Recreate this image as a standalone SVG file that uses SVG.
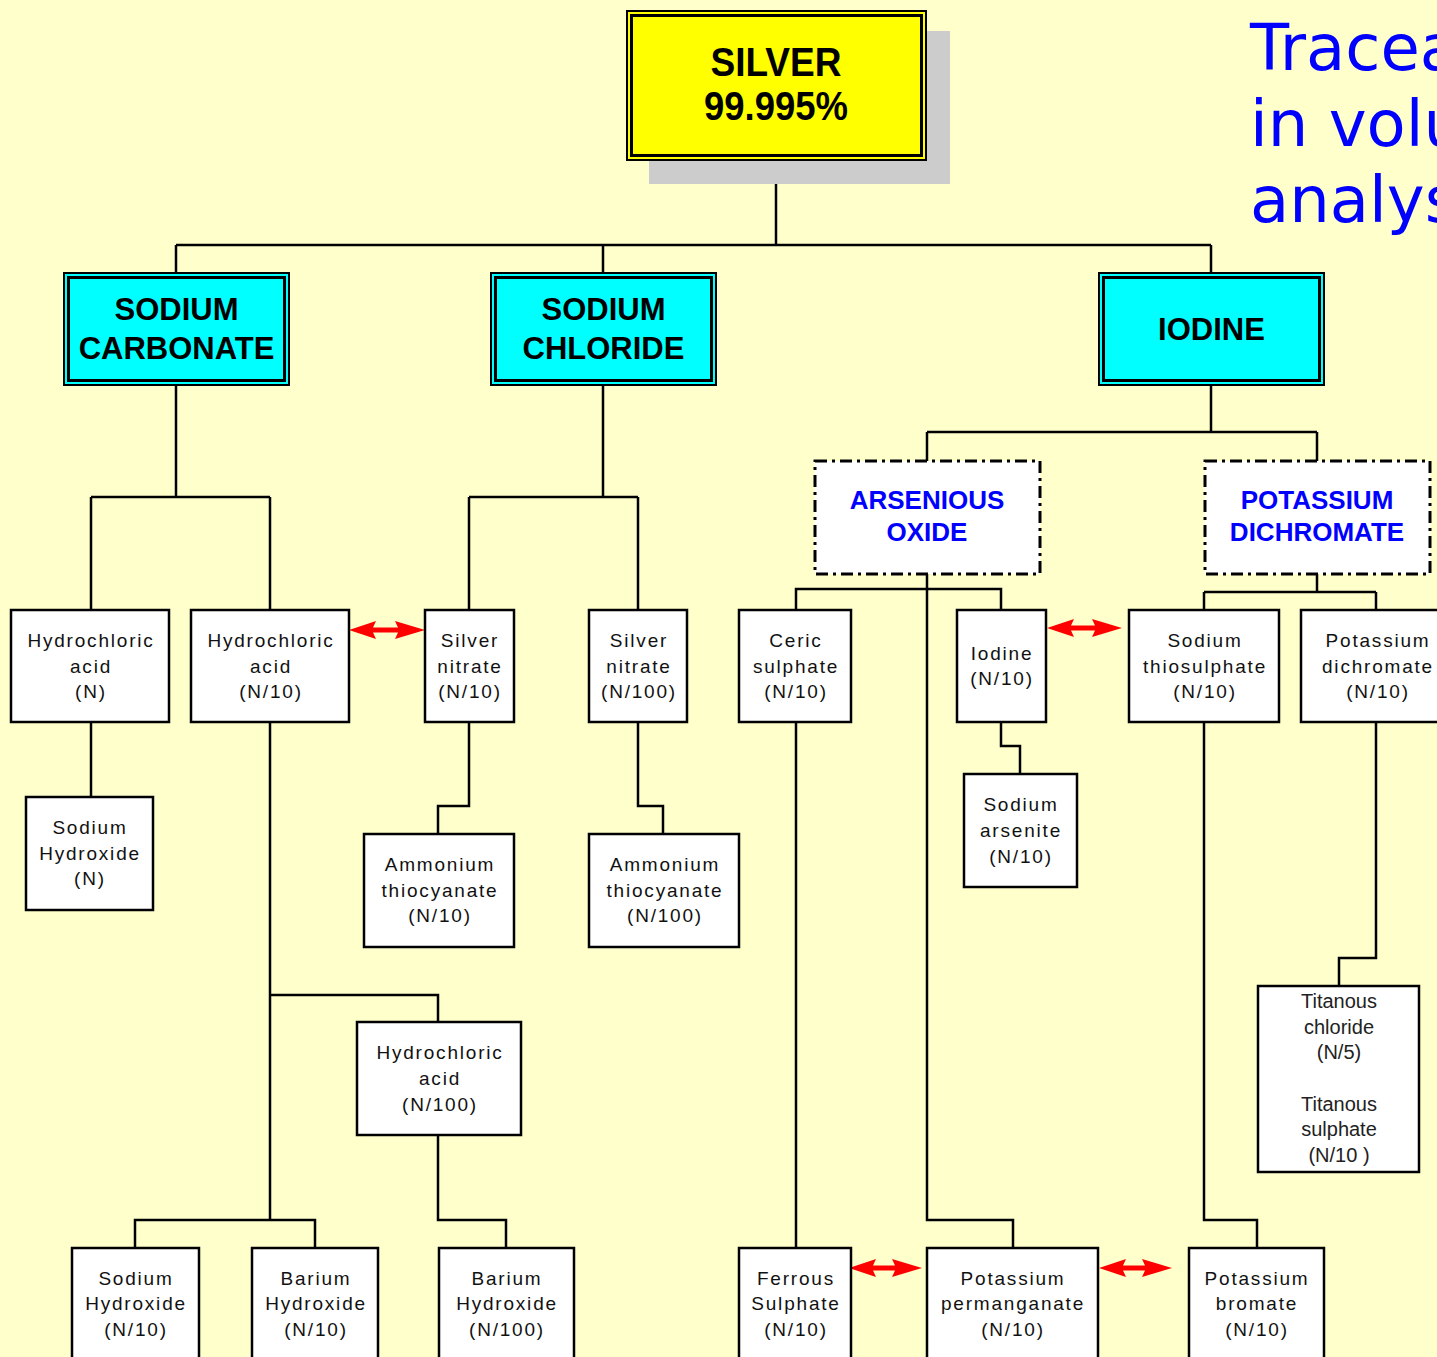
<svg xmlns="http://www.w3.org/2000/svg" width="1437" height="1357" viewBox="0 0 1437 1357">
<style>
.bg{fill:#FFFFCC}
.conn path{fill:none;stroke:#000;stroke-width:2.5}
.box{fill:#fff;stroke:#000;stroke-width:2.5}
.dash{fill:#fff;stroke:#000;stroke-width:3;stroke-dasharray:12 5 3 5}
.cyo{fill:#00FFFF;stroke:#000;stroke-width:2}
.cyi{fill:none;stroke:#000;stroke-width:3}
.lbl{font-family:"Liberation Sans",Arial,sans-serif;font-size:19px;letter-spacing:1.8px;text-anchor:middle;fill:#111}
.thin{font-family:"Liberation Sans",Arial,sans-serif;font-size:20px;text-anchor:middle;fill:#222}
.head{font-family:"Liberation Sans",Arial,sans-serif;font-size:31px;font-weight:bold;text-anchor:middle;fill:#000}
.blue{font-family:"Liberation Sans",Arial,sans-serif;font-size:26px;font-weight:bold;text-anchor:middle;fill:#0000FF}
.silver{font-family:"Liberation Sans",Arial,sans-serif;font-size:40px;font-weight:bold;text-anchor:middle;fill:#000}
.title{font-family:"DejaVu Sans",Verdana,sans-serif;font-size:64px;fill:#0000FF}
.arr{fill:#FF0000}
</style>
<rect class="bg" x="0" y="0" width="1437" height="1357"/>

<g id="title">
<text class="title" x="1250" y="70">Tracea</text>
<text class="title" x="1250" y="146">in volu</text>
<text class="title" x="1250" y="222">analys</text>
</g>

<g id="connectors" class="conn">
<path d="M776,160 V245"/>
<path d="M176,245 H1211"/>
<path d="M176,245 V273 M603,245 V273 M1211,245 V273"/>
<path d="M176,385 V497 M91,497 H270 M91,497 V610 M270,497 V610"/>
<path d="M603,385 V497 M469,497 H638 M469,497 V610 M638,497 V610"/>
<path d="M1211,385 V432 M927,432 H1317 M927,432 V461 M1317,432 V461"/>
<path d="M927,574 V1220 H1013 V1248"/>
<path d="M796,610 V589 H1001 V610"/>
<path d="M1317,574 V592 M1204,592 H1376 M1204,592 V610 M1376,592 V610"/>
<path d="M91,722 V797"/>
<path d="M469,722 V806 H438 V834"/>
<path d="M638,722 V806 H663 V834"/>
<path d="M1001,722 V746 H1020 V774"/>
<path d="M270,722 V1220 M270,995 H438 V1022 M135,1248 V1220 H315 V1248"/>
<path d="M438,1135 V1220 H506 V1248"/>
<path d="M796,722 V1248"/>
<path d="M1204,722 V1220 H1257 V1248"/>
<path d="M1376,722 V958 H1339 V986"/>
</g>

<g id="arrows">
<path class="arr" d="M349,630 L376,621 L373,627.5 L398,627.5 L395,621 L425,630 L395,639 L398,632.5 L373,632.5 L376,639 Z"/>
<path class="arr" d="M1047,628 L1074,619 L1071,625.5 L1095,625.5 L1092,619 L1122,628 L1092,637 L1095,630.5 L1071,630.5 L1074,637 Z"/>
<path class="arr" d="M849,1268 L876,1259 L873,1265.5 L895,1265.5 L892,1259 L922,1268 L892,1277 L895,1270.5 L873,1270.5 L876,1277 Z"/>
<path class="arr" d="M1099,1268 L1126,1259 L1123,1265.5 L1145,1265.5 L1142,1259 L1172,1268 L1142,1277 L1145,1270.5 L1123,1270.5 L1126,1277 Z"/>
</g>

<g id="silver">
<rect x="649" y="31" width="301" height="153" fill="#CCCCCC"/>
<rect x="627" y="11" width="299" height="149" fill="#FFFF00" stroke="#000" stroke-width="2"/>
<rect x="631.5" y="15.5" width="290" height="140" class="cyi"/>
<text class="silver" x="776" y="76" textLength="131" lengthAdjust="spacingAndGlyphs">SILVER</text>
<text class="silver" x="776" y="120" textLength="144" lengthAdjust="spacingAndGlyphs">99.995%</text>
</g>

<g id="sodium-carbonate">
<rect class="cyo" x="64" y="273" width="225" height="112"/>
<rect class="cyi" x="68.5" y="277.5" width="216" height="103"/>
<text class="head" x="176.5" y="320">SODIUM</text>
<text class="head" x="176.5" y="359">CARBONATE</text>
</g>
<g id="sodium-chloride">
<rect class="cyo" x="491" y="273" width="225" height="112"/>
<rect class="cyi" x="495.5" y="277.5" width="216" height="103"/>
<text class="head" x="603.5" y="320">SODIUM</text>
<text class="head" x="603.5" y="359">CHLORIDE</text>
</g>
<g id="iodine">
<rect class="cyo" x="1099" y="273" width="225" height="112"/>
<rect class="cyi" x="1103.5" y="277.5" width="216" height="103"/>
<text class="head" x="1211.5" y="340">IODINE</text>
</g>

<g id="arsenious-oxide">
<rect class="dash" x="815" y="461" width="225" height="113"/>
<text class="blue" x="927" y="509">ARSENIOUS</text>
<text class="blue" x="927" y="541">OXIDE</text>
</g>
<g id="potassium-dichromate-std">
<rect class="dash" x="1205" y="461" width="225" height="113"/>
<text class="blue" x="1317" y="509">POTASSIUM</text>
<text class="blue" x="1317" y="541">DICHROMATE</text>
</g>

<g id="hcl-n">
<rect class="box" x="11" y="610" width="158" height="112"/>
<text class="lbl" x="91" y="647">Hydrochloric</text>
<text class="lbl" x="91" y="673">acid</text>
<text class="lbl" x="91" y="698">(N)</text>
</g>
<g id="hcl-n10">
<rect class="box" x="191" y="610" width="158" height="112"/>
<text class="lbl" x="271" y="647">Hydrochloric</text>
<text class="lbl" x="271" y="673">acid</text>
<text class="lbl" x="271" y="698">(N/10)</text>
</g>
<g id="silver-nitrate-n10">
<rect class="box" x="425" y="610" width="89" height="112"/>
<text class="lbl" x="470" y="647">Silver</text>
<text class="lbl" x="470" y="673">nitrate</text>
<text class="lbl" x="470" y="698">(N/10)</text>
</g>
<g id="silver-nitrate-n100">
<rect class="box" x="589" y="610" width="98" height="112"/>
<text class="lbl" x="639" y="647">Silver</text>
<text class="lbl" x="639" y="673">nitrate</text>
<text class="lbl" x="639" y="698">(N/100)</text>
</g>
<g id="ceric-sulphate">
<rect class="box" x="739" y="610" width="112" height="112"/>
<text class="lbl" x="796" y="647">Ceric</text>
<text class="lbl" x="796" y="673">sulphate</text>
<text class="lbl" x="796" y="698">(N/10)</text>
</g>
<g id="iodine-n10">
<rect class="box" x="957" y="610" width="89" height="112"/>
<text class="lbl" x="1002" y="660">Iodine</text>
<text class="lbl" x="1002" y="685">(N/10)</text>
</g>
<g id="sodium-thiosulphate">
<rect class="box" x="1129" y="610" width="150" height="112"/>
<text class="lbl" x="1205" y="647">Sodium</text>
<text class="lbl" x="1205" y="673">thiosulphate</text>
<text class="lbl" x="1205" y="698">(N/10)</text>
</g>
<g id="potassium-dichromate-n10">
<rect class="box" x="1301" y="610" width="152" height="112"/>
<text class="lbl" x="1378" y="647">Potassium</text>
<text class="lbl" x="1378" y="673">dichromate</text>
<text class="lbl" x="1378" y="698">(N/10)</text>
</g>

<g id="sodium-hydroxide-n">
<rect class="box" x="26" y="797" width="127" height="113"/>
<text class="lbl" x="90" y="834">Sodium</text>
<text class="lbl" x="90" y="860">Hydroxide</text>
<text class="lbl" x="90" y="885">(N)</text>
</g>
<g id="ammonium-thiocyanate-n10">
<rect class="box" x="364" y="834" width="150" height="113"/>
<text class="lbl" x="440" y="871">Ammonium</text>
<text class="lbl" x="440" y="897">thiocyanate</text>
<text class="lbl" x="440" y="922">(N/10)</text>
</g>
<g id="ammonium-thiocyanate-n100">
<rect class="box" x="589" y="834" width="150" height="113"/>
<text class="lbl" x="665" y="871">Ammonium</text>
<text class="lbl" x="665" y="897">thiocyanate</text>
<text class="lbl" x="665" y="922">(N/100)</text>
</g>
<g id="sodium-arsenite">
<rect class="box" x="964" y="774" width="113" height="113"/>
<text class="lbl" x="1021" y="811">Sodium</text>
<text class="lbl" x="1021" y="837">arsenite</text>
<text class="lbl" x="1021" y="863">(N/10)</text>
</g>
<g id="titanous">
<rect class="box" x="1258" y="986" width="161" height="186"/>
<text class="thin" x="1339" y="1008">Titanous</text>
<text class="thin" x="1339" y="1034">chloride</text>
<text class="thin" x="1339" y="1059">(N/5)</text>
<text class="thin" x="1339" y="1111">Titanous</text>
<text class="thin" x="1339" y="1136">sulphate</text>
<text class="thin" x="1339" y="1162">(N/10 )</text>
</g>
<g id="hcl-n100">
<rect class="box" x="357" y="1022" width="164" height="113"/>
<text class="lbl" x="440" y="1059">Hydrochloric</text>
<text class="lbl" x="440" y="1085">acid</text>
<text class="lbl" x="440" y="1111">(N/100)</text>
</g>

<g id="sodium-hydroxide-n10">
<rect class="box" x="72" y="1248" width="127" height="120"/>
<text class="lbl" x="136" y="1285">Sodium</text>
<text class="lbl" x="136" y="1310">Hydroxide</text>
<text class="lbl" x="136" y="1336">(N/10)</text>
</g>
<g id="barium-hydroxide-n10">
<rect class="box" x="252" y="1248" width="126" height="120"/>
<text class="lbl" x="316" y="1285">Barium</text>
<text class="lbl" x="316" y="1310">Hydroxide</text>
<text class="lbl" x="316" y="1336">(N/10)</text>
</g>
<g id="barium-hydroxide-n100">
<rect class="box" x="439" y="1248" width="135" height="120"/>
<text class="lbl" x="507" y="1285">Barium</text>
<text class="lbl" x="507" y="1310">Hydroxide</text>
<text class="lbl" x="507" y="1336">(N/100)</text>
</g>
<g id="ferrous-sulphate">
<rect class="box" x="739" y="1248" width="112" height="120"/>
<text class="lbl" x="796" y="1285">Ferrous</text>
<text class="lbl" x="796" y="1310">Sulphate</text>
<text class="lbl" x="796" y="1336">(N/10)</text>
</g>
<g id="potassium-permanganate">
<rect class="box" x="927" y="1248" width="171" height="120"/>
<text class="lbl" x="1013" y="1285">Potassium</text>
<text class="lbl" x="1013" y="1310">permanganate</text>
<text class="lbl" x="1013" y="1336">(N/10)</text>
</g>
<g id="potassium-bromate">
<rect class="box" x="1189" y="1248" width="135" height="120"/>
<text class="lbl" x="1257" y="1285">Potassium</text>
<text class="lbl" x="1257" y="1310">bromate</text>
<text class="lbl" x="1257" y="1336">(N/10)</text>
</g>
</svg>
